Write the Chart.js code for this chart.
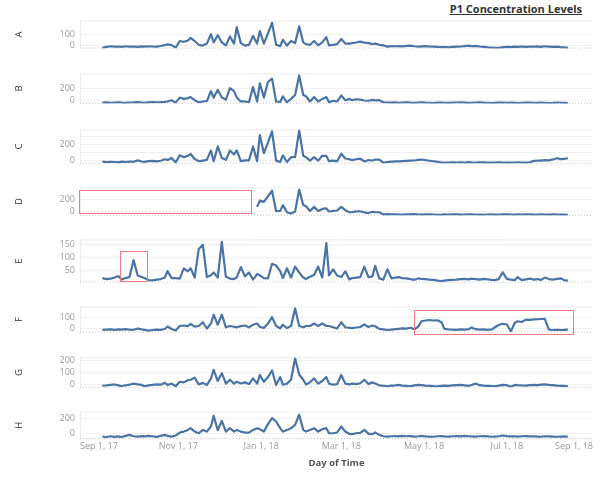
<!DOCTYPE html>
<html>
<head>
<meta charset="utf-8">
<script src="https://cdn.jsdelivr.net/npm/chart.js@4.4.1/dist/chart.umd.min.js"></script>
<style>
  body { margin: 0; background: #fff; width: 600px; height: 480px; position: relative; overflow: hidden; font-family: "Open Sans", sans-serif; }
  #title { position: absolute; top: 1px; right: 18px; font-weight: bold; font-size: 11px; line-height: 15px; text-decoration: underline; color: #333; }
  canvas { position: absolute; left: 0; }
</style>
</head>
<body>
<div id="title">P1 Concentration Levels</div>
<div id="wrap"></div>
<script>
// jours depuis le 1er sept. 2017
const days = [5,8,11,14,17,19,22,25,28,31,34,36,39,42,45,48,51,53,56,59,62,65,68,70,73,76,79,82,85,87,90,93,96,99,102,104,107,110,113,116,119,121,124,127,130,133,136,138,141,144,147,150,153,155,158,161,164,167,170,172,175,178,181,184,187,189,192,195,198,201,204,206,209,212,215,218,221,223,226,229,232,235,238,240,243,246,249,252,255,257,260,263,266,269,272,275,277,280,283,286,289,292,294,297,300,303,306,309,311,314,317,320,323,326,328,331,334,337,340,343,345,348];

const seriesA = [-23,-14,-8,-12,-10,-14,-8,-12,-10,-14,-9,-12,-8,-10,-12,-6,2,9,2,-20,
  39,32,43,68,39,5,-2,16,100,27,91,27,0,80,16,163,20,-2,5,84,
  16,129,16,107,202,5,-7,50,-2,39,20,170,27,11,5,39,0,27,73,0,5,11,57,16,
  15,20,26,34,25,20,11,16,5,0,-11,-7,-8,-6,-9,-4,-2,-8,-11,-9,-7,-10,-12,-14,-15,-16,-18,-14,-12,-10,
  -6,-2,-8,-5,-10,-14,-18,-20,-22,-23,-18,-14,-16,-12,-13,-10,-14,-11,-12,-9,-13,-8,-11,-14,-12,-18,-17,-22];
const seriesB = [-40,-36,-42,-38,-34,-40,-44,-38,-36,-32,-38,-42,-36,-30,-34,-32,-28,-22,0,-40,
  43,21,34,51,0,-34,-21,-13,150,40,171,43,9,200,150,43,-21,-21,-34,214,
  -21,278,43,299,354,-21,-30,64,-34,21,85,406,85,64,-21,51,-21,21,51,-34,-9,-21,77,0,
  21,0,15,9,-5,-9,5,-4,0,-34,
  -38,-40,-36,-42,-38,-34,-40,-44,-38,-36,-40,-42,-46,-40,-38,-42,-44,-40,-38,-36,-40,-44,-42,-38,
  -36,-40,-42,-46,-44,-40,-38,-42,-40,-44,-46,-42,-40,-38,-42,-44,-40,-42,-46,-44,-40,-42,-44,-48];
const seriesC = [-20,-26,-22,-24,-28,-20,-24,-18,-22,-4,-18,-22,-14,-10,-16,-8,10,2,26,-30,
  60,36,53,76,13,-14,-7,3,120,-14,170,26,3,120,70,120,-14,-4,-4,170,
  -14,313,86,219,359,-7,-24,60,-24,36,36,370,53,36,-7,36,-7,53,53,-14,-7,-14,80,20,
  10,0,10,17,-17,0,-5,5,7,-33,-25,-20,-17,-15,-12,-10,-8,-5,3,7,0,-8,-15,-22,-30,-33,-30,-28,-30,-27,
  -30,-25,-28,-30,-27,-29,-33,-32,-30,-28,-30,-32,-33,-30,-29,-30,-31,-28,-10,-5,-7,0,-3,8,23,12,15,23];
const seriesD = [null,null,null,null,null,null,null,null,null,null,null,null,null,null,null,null,null,null,null,null,
  null,null,null,null,null,null,null,null,null,null,null,null,null,null,null,null,null,null,null,null,
  80,180,160,250,340,10,13,108,-8,-29,4,358,108,88,13,79,13,46,54,4,13,21,79,25,
  -8,-5,5,8,-10,-21,0,-5,-8,-42,
  -38,-42,-40,-44,-46,-40,-42,-38,-44,-46,-42,-40,-44,-48,-46,-42,-44,-40,-42,-46,-44,-42,-40,-44,
  -46,-48,-44,-42,-46,-44,-40,-42,-44,-46,-42,-44,-40,-42,-46,-44,-42,-44,-46,-42,-44,-46,-44,-48];
const seriesE = [18,14,16,20,26,12,18,22,90,28,22,18,10,9,12,14,20,46,18,18,
  16,57,45,57,20,134,151,22,29,40,20,162,23,16,14,20,62,25,40,12,
  34,29,18,17,75,68,46,18,57,20,64,40,20,14,23,30,64,20,157,29,53,28,22,45,
  12,18,20,22,64,22,25,67,17,12,53,17,20,22,18,17,14,11,17,15,14,12,11,8,6,8,10,11,12,14,
  15,13,16,14,12,15,13,11,10,14,41,15,12,10,22,10,13,16,12,14,10,20,14,12,15,17,10,8];
const seriesF = [-14,-12,-10,-14,-10,-12,-8,-12,-14,-2,-10,-14,-21,-16,-12,-14,-7,16,-7,-21,
  21,26,20,40,16,21,56,-2,44,126,33,126,9,21,14,9,20,26,9,33,
  44,14,2,44,103,21,0,33,2,21,184,21,9,21,21,44,21,44,21,21,9,-2,56,9,
  5,2,7,12,35,12,26,19,-5,-10,-16,-12,-8,-5,0,-3,5,-9,20,65,72,77,72,74,54,-5,-10,-12,-14,-10,
  -12,-8,7,-8,-12,-10,-14,-10,7,30,42,35,-28,54,65,58,80,78,82,84,86,88,-12,-16,-14,-16,-15,-12];
const seriesG = [-8,-6,-2,2,-6,-13,-5,0,9,2,-2,-13,-6,-2,2,0,15,-2,9,-13,
  24,19,37,41,58,2,15,-2,52,123,30,95,9,41,9,24,10,19,5,52,
  9,80,24,63,117,-2,63,0,9,41,218,84,41,2,20,52,9,30,63,9,0,5,80,9,
  2,9,5,12,41,5,19,10,-5,-9,-13,-8,-6,-2,-8,-10,-13,-6,-2,-4,-8,-10,-12,-13,-10,-8,-9,-6,-4,-2,
  -6,-9,-2,9,-4,-8,-9,-11,-13,-8,-2,-4,-17,-2,-4,-6,-7,-4,-2,-4,0,2,-2,-4,-8,-9,-10,-13];
const seriesH = [-45,-50,-40,-48,-42,-50,-35,-22,-40,-45,-38,-42,-35,-40,-48,-35,-22,-35,-44,-30,
  9,22,44,67,22,0,44,22,89,231,40,164,22,67,22,44,22,9,9,44,
  67,53,22,120,200,155,67,22,44,67,110,244,44,22,44,67,22,53,67,0,0,10,89,22,
  -10,-12,0,5,44,-5,-12,12,-22,-40,
  -44,-40,-38,-42,-36,-40,-38,-44,-40,-36,-42,-44,-46,-40,-38,-42,-44,-40,-38,-42,-36,-40,-42,-44,
  -40,-38,-42,-46,-44,-40,-30,-38,-42,-40,-44,-40,-38,-42,-40,-44,-46,-40,-42,-44,-46,-44,-42,-46];

// graduations
const xTickDays = [0, 61, 122, 181, 242, 303, 365];
const xTickLabels = ['Sep 1, 17', 'Nov 1, 17', 'Jan 1, 18', 'Mar 1, 18', 'May 1, 18', 'Jul 1, 18', 'Sep 1, 18'];
const yGridA = [0, 100],        yLabelsA = [0, 100];
const yGridB = [0, 200],        yLabelsB = [0, 200];
const yGridC = [0, 100, 200, 300], yLabelsC = [0, 200];
const yGridD = [0, 200],        yLabelsD = [0, 200];
const yGridE = [50, 100, 150],  yLabelsE = [50, 100, 150];
const yGridF = [0, 100],        yLabelsF = [0, 100];
const yGridG = [0, 100, 200],   yLabelsG = [0, 100, 200];
const yGridH = [0, 200],        yLabelsH = [0, 200];

// zones encadrées en rouge : [jour début, jour fin, valeur basse, valeur haute]
const boxD = [-12, 114.3, -21, 350];
const boxE = [18, 37.7, 4.7, 126];
const boxF = [234.9, 351.6, -51, 166];

// mise en page des panneaux
const panels = [
  { name: 'A', values: seriesA, min: -29, max: 224, grid: yGridA, labels: yLabelsA, top: 16, bottom: 53 },
  { name: 'B', values: seriesB, min: -56, max: 440, grid: yGridB, labels: yLabelsB, top: 69, bottom: 108 },
  { name: 'C', values: seriesC, min: -44, max: 383, grid: yGridC, labels: yLabelsC, top: 125, bottom: 168 },
  { name: 'D', values: seriesD, min: -62, max: 394, grid: yGridD, labels: yLabelsD, top: 183, bottom: 220, box: boxD },
  { name: 'E', values: seriesE, min: 0, max: 172, grid: yGridE, labels: yLabelsE, top: 235, bottom: 287, box: boxE },
  { name: 'F', values: seriesF, min: -40, max: 203, grid: yGridF, labels: yLabelsF, top: 302, bottom: 337, box: boxF },
  { name: 'G', values: seriesG, min: -24, max: 225, grid: yGridG, labels: yLabelsG, top: 353, bottom: 392 },
  { name: 'H', values: seriesH, min: -76, max: 288, grid: yGridH, labels: yLabelsH, top: 407, bottom: 434, last: true }
];

Chart.defaults.font.family = '"Open Sans", sans-serif';
Chart.defaults.font.size = 9;

// cadre du panneau : bord gauche, bord haut, ligne pointillée en bas
const paneFrame = {
  id: 'paneFrame',
  beforeDatasetsDraw(chart) {
    const { ctx, chartArea: a } = chart;
    ctx.save();
    ctx.lineWidth = 1;
    ctx.strokeStyle = '#ebebeb';
    ctx.beginPath();
    ctx.moveTo(a.left + 0.5, a.top);
    ctx.lineTo(a.left + 0.5, a.bottom);
    ctx.moveTo(a.left, a.top + 0.5);
    ctx.lineTo(a.right, a.top + 0.5);
    ctx.stroke();
    ctx.strokeStyle = '#c2c2c2';
    ctx.setLineDash([1, 2]);
    ctx.beginPath();
    ctx.moveTo(a.left, a.bottom - 0.5);
    ctx.lineTo(a.right, a.bottom - 0.5);
    ctx.stroke();
    ctx.restore();
  }
};

// les étiquettes de dates aux bords restent dans la zone du graphique
const clampLabels = {
  id: 'clampLabels',
  beforeDraw(chart) {
    const x = chart.scales.x;
    if (!x.options.display) return;
    const { ctx, chartArea: a } = chart;
    x.getLabelItems(a).forEach(item => {
      ctx.font = item.font.string;
      const half = ctx.measureText(item.label).width / 2;
      const tr = item.options.translation;
      if (tr[0] - half < a.left) tr[0] = a.left + half;
      if (tr[0] + half > a.right) tr[0] = a.right - half;
    });
  }
};

// rectangle rouge d'annotation
const redBox = {
  id: 'redBox',
  afterDraw(chart, args, opts) {
    if (!opts.box) return;
    const { ctx, scales: { x, y } } = chart;
    const [d0, d1, v0, v1] = opts.box;
    const l = Math.round(x.getPixelForValue(d0)) + 0.5;
    const r = Math.round(x.getPixelForValue(d1)) + 0.5;
    const t = Math.round(y.getPixelForValue(v1)) + 0.5;
    const b = Math.round(y.getPixelForValue(v0)) + 0.5;
    ctx.save();
    ctx.strokeStyle = '#ef7b7f';
    ctx.lineWidth = 1;
    ctx.strokeRect(l, t, r - l, b - t);
    ctx.restore();
  }
};

const wrap = document.getElementById('wrap');

panels.forEach(p => {
  const padTop = 6;
  const axisH = p.last ? 37 : 6;
  const h = (p.bottom - p.top) + padTop + axisH;
  const canvas = document.createElement('canvas');
  canvas.width = 600;
  canvas.height = h;
  canvas.style.top = (p.top - padTop) + 'px';
  wrap.appendChild(canvas);

  new Chart(canvas.getContext('2d'), {
    type: 'line',
    data: {
      datasets: [{
        data: p.values.map((v, i) => ({ x: days[i], y: v })),
        borderColor: '#4a74a6',
        borderWidth: 2.2,
        pointRadius: 0,
        tension: 0,
        spanGaps: false,
        borderJoinStyle: 'round'
      }]
    },
    options: {
      responsive: false,
      animation: false,
      devicePixelRatio: 1,
      layout: { padding: { top: padTop, bottom: p.last ? 0 : 6, left: 0, right: 7 } },
      plugins: { legend: { display: false }, tooltip: { enabled: false }, redBox: { box: p.box } },
      scales: {
        x: {
          type: 'linear',
          min: -11.5,
          max: 366.5,
          display: !!p.last,
          afterBuildTicks: s => { s.ticks = xTickDays.map(v => ({ value: v })); },
          afterFit: s => { s.paddingLeft = 0; s.paddingRight = 0; },
          ticks: {
            autoSkip: false,
            maxRotation: 0,
            padding: 2,
            color: '#9a9a9a',
            font: { size: 9 },
            callback: v => xTickLabels[xTickDays.indexOf(v)]
          },
          grid: { display: false, drawTicks: false },
          border: { display: false },
          title: {
            display: true,
            text: 'Day of Time',
            color: '#555',
            font: { size: 9.5, weight: 'bold' },
            padding: { top: 11, bottom: 2 }
          }
        },
        y: {
          min: p.min,
          max: p.max,
          afterFit: s => { s.width = 80; },
          afterBuildTicks: s => { s.ticks = p.grid.map(v => ({ value: v })); },
          ticks: {
            autoSkip: false,
            padding: 5,
            color: '#9a9a9a',
            font: { size: 9 },
            callback: v => p.labels.includes(v) ? String(v) : ''
          },
          grid: { color: '#f0f0f0', drawTicks: false },
          border: { display: false },
          title: {
            display: true,
            text: p.name,
            color: '#333',
            font: { size: 9.5 },
            padding: { top: 13.3, bottom: 0 }
          }
        }
      }
    },
    plugins: [paneFrame, clampLabels, redBox]
  });
});
</script>
</body>
</html>
